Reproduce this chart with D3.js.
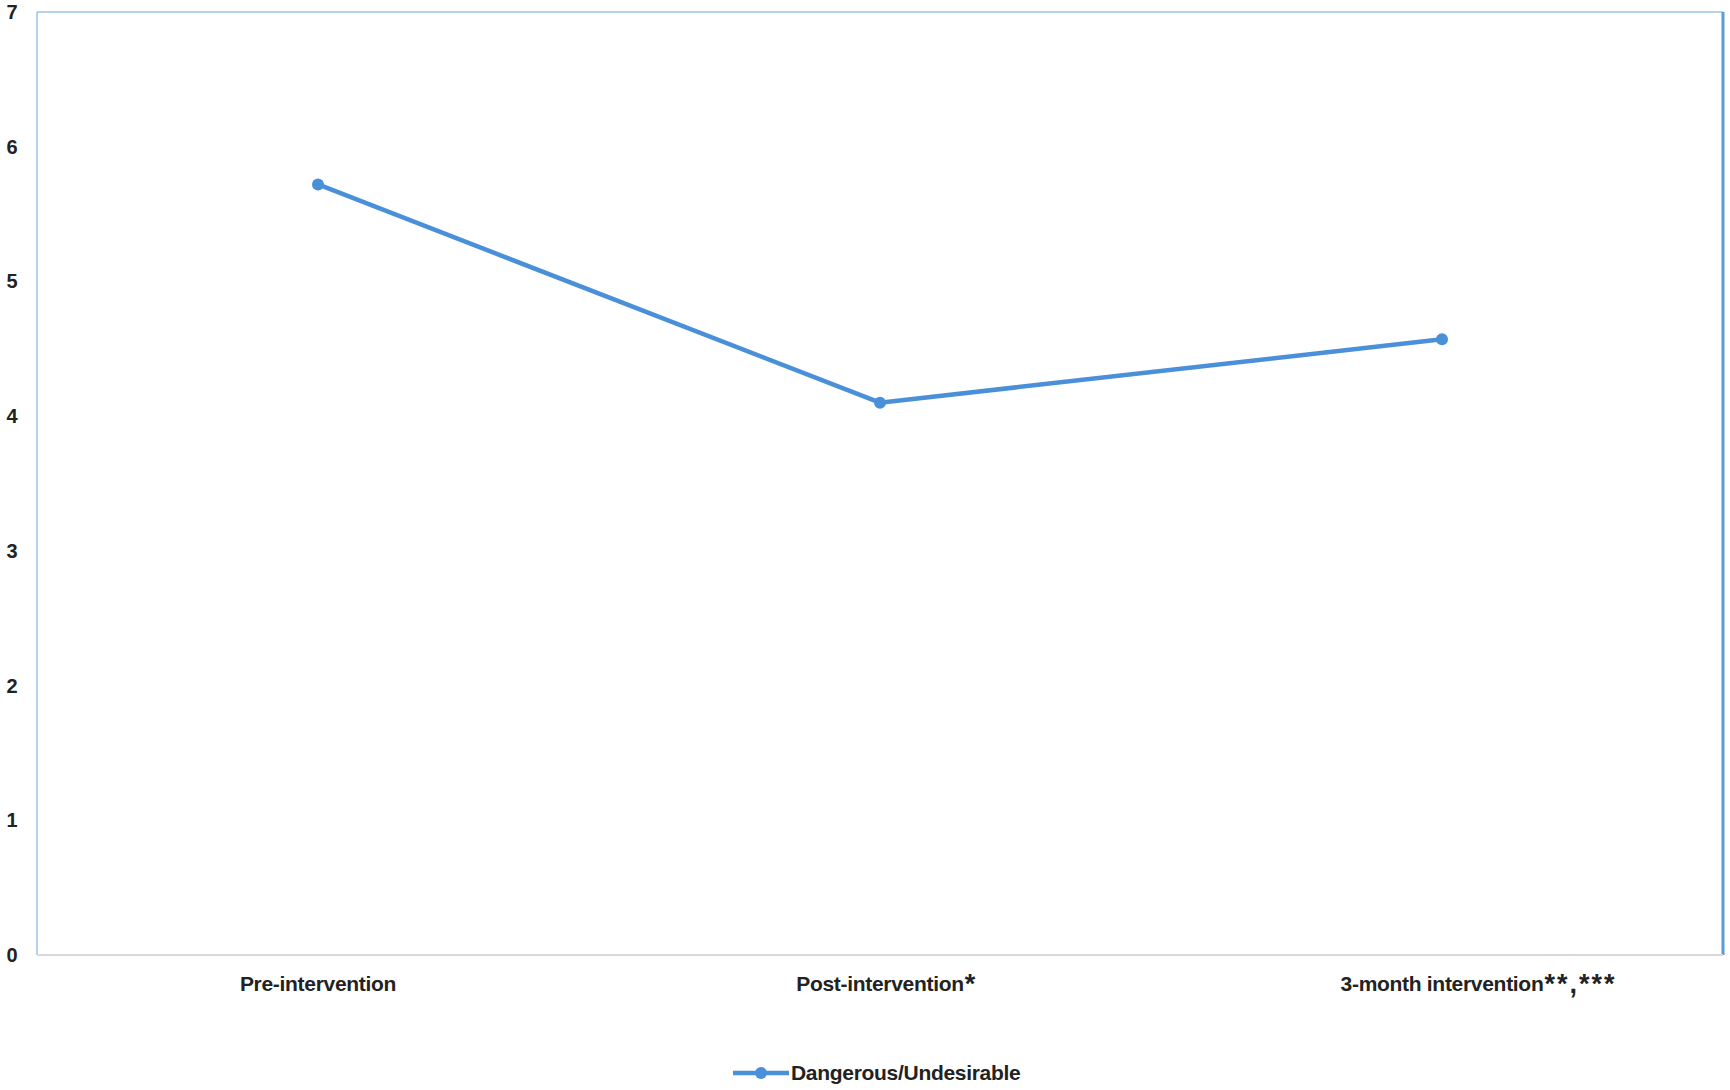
<!DOCTYPE html>
<html>
<head>
  <script src="https://d3js.org/d3.v7.min.js"></script>
  <style>
    body { margin: 0; background: #fff; }
    text { font-family: "Liberation Sans", Arial, sans-serif; font-weight: bold; fill: #222; }
  </style>
</head>
<body>
  <svg id="chart"></svg>
  <script>
    var categories = ["Pre-intervention", "Post-intervention", "3-month intervention"];
    var marks = ["", "*", "**,***"];
    var values = [5.72, 4.10, 4.57];
    var yTicks = [0, 1, 2, 3, 4, 5, 6, 7];
    var seriesName = "Dangerous/Undesirable";

    var width = 1730, height = 1090;
    var margin = {top: 12, right: 7, bottom: 135, left: 37};
    var innerW = width - margin.left - margin.right;
    var innerH = height - margin.top - margin.bottom;
    var lineColor = "#4a90d9";

    var svg = d3.select("#chart")
                .attr("width", width)
                .attr("height", height);
    var g = svg.append("g")
               .attr("transform", "translate(" + margin.left + "," + margin.top + ")");

    var x = d3.scalePoint()
              .domain(categories)
              .range([0, innerW])
              .padding(0.5);
    var y = d3.scaleLinear()
              .domain([0, 7])
              .range([innerH, 0]);

    // plot frame
    g.append("line").attr("x1", 0).attr("x2", innerW).attr("y1", 0).attr("y2", 0)
     .attr("stroke", "#9dc3e6").attr("stroke-width", 1.5);
    g.append("line").attr("x1", 0).attr("x2", 0).attr("y1", 0).attr("y2", innerH)
     .attr("stroke", "#9dc3e6").attr("stroke-width", 1.5);
    g.append("line").attr("x1", innerW).attr("x2", innerW).attr("y1", 0).attr("y2", innerH)
     .attr("stroke", "#5b9bd5").attr("stroke-width", 3);
    g.append("line").attr("x1", 0).attr("x2", innerW).attr("y1", innerH).attr("y2", innerH)
     .attr("stroke", "#d9d9d9").attr("stroke-width", 2);

    // y tick labels
    g.selectAll(".ytick")
     .data(yTicks)
     .enter().append("text")
     .attr("class", "ytick")
     .attr("x", -25)
     .attr("y", function(d) { return y(d); })
     .attr("dy", "0.35em")
     .attr("text-anchor", "middle")
     .style("font-size", "20px")
     .text(function(d) { return d; });

    // x labels: main text centred on the point, significance marks appended after it
    categories.forEach(function(c, i) {
      var t = g.append("text")
               .attr("x", x(c))
               .attr("y", innerH + 36)
               .attr("text-anchor", "middle")
               .style("font-size", "21px")
               .style("letter-spacing", "-0.3px")
               .text(c);
      if (marks[i]) {
        var w = t.node().getComputedTextLength();
        g.append("text")
         .attr("x", x(c) + w / 2 + 1)
         .attr("y", innerH + 38)
         .style("font-size", "27px")
         .style("letter-spacing", "2px")
         .text(marks[i]);
      }
    });

    var line = d3.line()
                 .x(function(d, i) { return x(categories[i]); })
                 .y(function(d) { return y(d); });

    g.append("path")
     .datum(values)
     .attr("d", line)
     .attr("fill", "none")
     .attr("stroke", lineColor)
     .attr("stroke-width", 4.5);

    g.selectAll(".pt")
     .data(values)
     .enter().append("circle")
     .attr("class", "pt")
     .attr("cx", function(d, i) { return x(categories[i]); })
     .attr("cy", function(d) { return y(d); })
     .attr("r", 6)
     .attr("fill", lineColor);

    // legend
    var lg = svg.append("g").attr("transform", "translate(733,1073)");
    lg.append("line").attr("x1", 0).attr("x2", 56).attr("y1", 0).attr("y2", 0)
      .attr("stroke", lineColor).attr("stroke-width", 4.5);
    lg.append("circle").attr("cx", 28).attr("cy", 0).attr("r", 6).attr("fill", lineColor);
    lg.append("text")
      .attr("x", 58)
      .attr("dy", "0.35em")
      .style("font-size", "21px")
      .style("letter-spacing", "-0.3px")
      .text(seriesName);
  </script>
</body>
</html>
